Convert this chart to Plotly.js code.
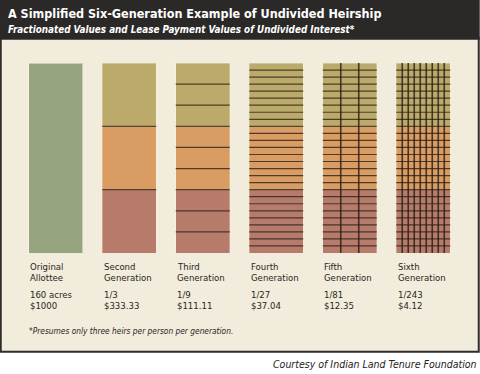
<!DOCTYPE html>
<html>
<head>
<meta charset="utf-8">
<script src="https://cdn.plot.ly/plotly-3.0.1.min.js"></script>
<style>html,body{margin:0;padding:0;background:#fff;}#chart{width:480px;height:374px;}</style>
</head>
<body>
<div id="chart"></div>
<script>
// ---- data ----
const labelLine1 = ["Original", "Second", "Third", "Fourth", "Fifth", "Sixth"];
const labelLine2 = ["Allottee", "Generation", "Generation", "Generation", "Generation", "Generation"];
const fractions = ["160 acres", "1/3", "1/9", "1/27", "1/81", "1/243"];
const leaseValues = ["$1000", "$333.33", "$111.11", "$37.04", "$12.35", "$4.12"];
const owners = [1, 3, 9, 27, 81, 243];
const rowsPerBar = [1, 3, 9, 27, 27, 27];
const totalAcres = 160;

// ---- styling ----
const FONT = '"DejaVu Sans Condensed", "Liberation Sans", sans-serif';
const W = 480, H = 374;
const ML = 19.25, MR = 19.75, MT = 63.3, MB = 120.7;
const PW = W - ML - MR, PH = H - MT - MB;
const BW = 0.735;
const px = x => (x - ML) / PW;          // pixel x -> paper
const py = y => (H - MB - y) / PH;      // pixel y -> paper

const idx = labelLine1.map((_, i) => i);
const gens = idx.slice(1);
const third = totalAcres / 3;

const traces = [];
traces.push({type: 'bar', x: [0], y: [totalAcres], width: BW, marker: {color: '#96a57f', line: {color: 'rgba(255,250,230,0.5)', width: 1}}, hoverinfo: 'skip'});
['#b77b6b', '#d99c63', '#bcaa6b'].forEach(c => {
  traces.push({type: 'bar', x: gens, y: gens.map(() => third), width: BW,
    marker: {color: c, line: {color: 'rgba(255,250,230,0.4)', width: 0.8}}, hoverinfo: 'skip'});
});

// division lines
const hx = [], hy = [];
const vx = [], vy = [];
idx.forEach(i => {
  const rows = rowsPerBar[i];
  const cols = owners[i] / rows;
  for (let k = 1; k < rows; k++) {
    const yv = totalAcres * k / rows;
    hx.push(i - BW / 2, i + BW / 2, null);
    hy.push(yv, yv, null);
  }
  for (let c = 1; c < cols; c++) {
    const xv = i - BW / 2 + BW * c / cols;
    vx.push(xv, xv, null);
    vy.push(0, totalAcres, null);
  }
});
traces.push({type: 'scatter', mode: 'lines', x: hx, y: hy, line: {color: 'rgba(45,35,25,0.8)', width: 1.2}, hoverinfo: 'skip', connectgaps: false});
traces.push({type: 'scatter', mode: 'lines', x: vx, y: vy, line: {color: 'rgba(35,28,20,0.8)', width: 1.6}, hoverinfo: 'skip', connectgaps: false});

const annotations = [];
const txt = {family: FONT, size: 9.5, color: '#2a2622'};
idx.forEach(i => {
  const xl = i - BW / 2 - 0.01;
  [[labelLine1[i], 266.5], [labelLine2[i], 277.8], [fractions[i], 295], [leaseValues[i], 306]].forEach(([t, y]) => {
    annotations.push({xref: 'x', yref: 'paper', x: xl, y: py(y), text: t, showarrow: false, xanchor: 'left', yanchor: 'middle', font: txt});
  });
});
annotations.push({xref: 'paper', yref: 'paper', x: px(6), y: py(14), text: '<b>A Simplified Six-Generation Example of Undivided Heirship</b>', showarrow: false, xanchor: 'left', yanchor: 'middle', font: {family: FONT, size: 12.5, color: '#ffffff'}});
annotations.push({xref: 'paper', yref: 'paper', x: px(6), y: py(29.5), text: '<b><i>Fractionated Values and Lease Payment Values of Undivided Interest*</i></b>', showarrow: false, xanchor: 'left', yanchor: 'middle', font: {family: FONT, size: 9.8, color: '#ffffff'}});
annotations.push({xref: 'paper', yref: 'paper', x: px(27), y: py(331), text: '<i>*Presumes only three heirs per person per generation.</i>', showarrow: false, xanchor: 'left', yanchor: 'middle', font: {family: FONT, size: 8.3, color: '#2a2622'}});
annotations.push({xref: 'paper', yref: 'paper', x: px(479), y: py(364), text: '<i>Courtesy of Indian Land Tenure Foundation</i>', showarrow: false, xanchor: 'right', yanchor: 'middle', font: {family: FONT, size: 10.5, color: '#222222'}});

const shapes = [
  {type: 'rect', xref: 'paper', yref: 'paper', x0: px(1), x1: px(479), y0: py(352), y1: py(38), fillcolor: '#f1ecdb', line: {color: '#2f2d2b', width: 2}, layer: 'below'},
  {type: 'rect', xref: 'paper', yref: 'paper', x0: px(0), x1: px(480), y0: py(40), y1: py(0), fillcolor: '#2b2928', line: {width: 0}, layer: 'below'}
];

const layout = {
  width: W, height: H,
  margin: {l: ML, r: MR, t: MT, b: MB, pad: 0},
  paper_bgcolor: '#ffffff', plot_bgcolor: 'rgba(0,0,0,0)',
  barmode: 'stack', showlegend: false,
  xaxis: {range: [-0.5, 5.5], visible: false, fixedrange: true},
  yaxis: {range: [0, totalAcres], visible: false, fixedrange: true},
  annotations, shapes,
  font: {family: FONT}
};
Plotly.newPlot('chart', traces, layout, {displayModeBar: false, staticPlot: true});
</script>
</body>
</html>
